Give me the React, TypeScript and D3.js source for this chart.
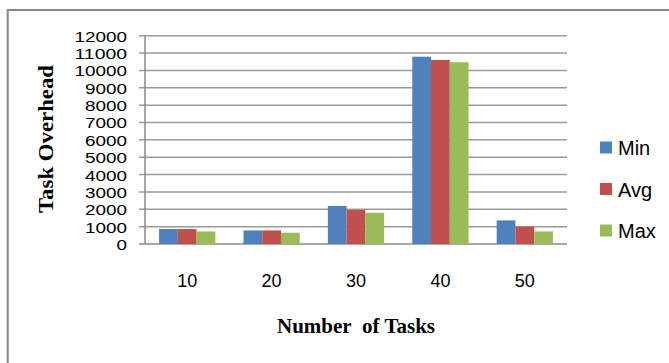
import React from "react";
import * as d3 from "d3";

const categories = ["10", "20", "30", "40", "50"];
const seriesNames = ["Min", "Avg", "Max"];
const minValues = [860, 780, 2190, 10790, 1360];
const avgValues = [860, 780, 1960, 10600, 1000];
const maxValues = [725, 650, 1800, 10470, 725];
const yTicks = [0, 1000, 2000, 3000, 4000, 5000, 6000, 7000, 8000, 9000, 10000, 11000, 12000];
const colors = ["#4F81BD", "#C0504D", "#9BBB59"];

const W = 669;
const H = 363;
const plotLeft = 145;
const plotRight = 567;
const plotTop = 35.7;
const plotBottom = 244;

export default function App() {
  const series = [minValues, avgValues, maxValues];
  const x = d3
    .scaleBand<string>()
    .domain(categories)
    .range([plotLeft, plotRight])
    .paddingInner(1 / 3)
    .paddingOuter(1 / 6);
  const xs = d3
    .scaleBand<string>()
    .domain(seriesNames)
    .range([0, x.bandwidth()]);
  const y = d3.scaleLinear().domain([0, 12000]).range([plotBottom, plotTop]);

  const sans = "'Liberation Sans', Arial, sans-serif";
  const serif = "'Liberation Serif', 'Times New Roman', serif";

  return (
    <svg
      width={W}
      height={H}
      style={{ position: "absolute", left: 0, top: 0, background: "#fff" }}
    >
      <rect x={0} y={0} width={W} height={H} fill="#fff" />
      <rect x={7.7} y={10} width={W + 50} height={H + 50} fill="#fff" stroke="#888" strokeWidth={2} />

      {/* gridlines */}
      {yTicks.map((t) => (
        <line
          key={"g" + t}
          x1={plotLeft - 6}
          x2={plotRight}
          y1={y(t)}
          y2={y(t)}
          stroke={t === 0 ? "#8a8a8a" : "#9a9a9a"}
          strokeWidth={1.5}
        />
      ))}
      {/* y axis line */}
      <line x1={plotLeft} x2={plotLeft} y1={plotTop} y2={plotBottom} stroke="#8a8a8a" strokeWidth={1.5} />

      {/* bars */}
      {series.map((vals, si) =>
        vals.map((v, ci) => (
          <rect
            key={si + "-" + ci}
            x={(x(categories[ci]) as number) + (xs(seriesNames[si]) as number)}
            y={y(v)}
            width={xs.bandwidth()}
            height={plotBottom - y(v)}
            fill={colors[si]}
          />
        ))
      )}

      {/* y tick labels */}
      {yTicks.map((t) => (
        <text
          key={"yl" + t}
          x={127}
          y={y(t) + 6}
          textAnchor="end"
          fontFamily={sans}
          fontSize={15.5}
          fill="#000"
          textLength={String(t).length * 10.5}
          lengthAdjust="spacingAndGlyphs"
        >
          {t}
        </text>
      ))}

      {/* x tick labels */}
      {categories.map((c) => (
        <text
          key={"xl" + c}
          x={(x(c) as number) + x.bandwidth() / 2}
          y={287}
          textAnchor="middle"
          fontFamily={sans}
          fontSize={18}
          fill="#000"
        >
          {c}
        </text>
      ))}

      {/* axis titles */}
      <text
        x={356}
        y={333}
        textAnchor="middle"
        fontFamily={serif}
        fontWeight="bold"
        fontSize={21}
        fill="#000"
        textLength={158}
        lengthAdjust="spacingAndGlyphs"
      >
        {"Number\u00a0 of Tasks"}
      </text>
      <text
        transform={`translate(53,139) rotate(-90)`}
        textAnchor="middle"
        fontFamily={serif}
        fontWeight="bold"
        fontSize={22}
        fill="#000"
        textLength={148}
        lengthAdjust="spacingAndGlyphs"
      >
        Task Overhead
      </text>

      {/* legend */}
      {seriesNames.map((n, i) => (
        <g key={"lg" + n} transform={`translate(600, ${141.5 + i * 41.5})`}>
          <rect x={0} y={0} width={12} height={12} fill={colors[i]} />
          <text x={18} y={13.5} fontFamily={sans} fontSize={20} fill="#000">
            {n}
          </text>
        </g>
      ))}
    </svg>
  );
}
